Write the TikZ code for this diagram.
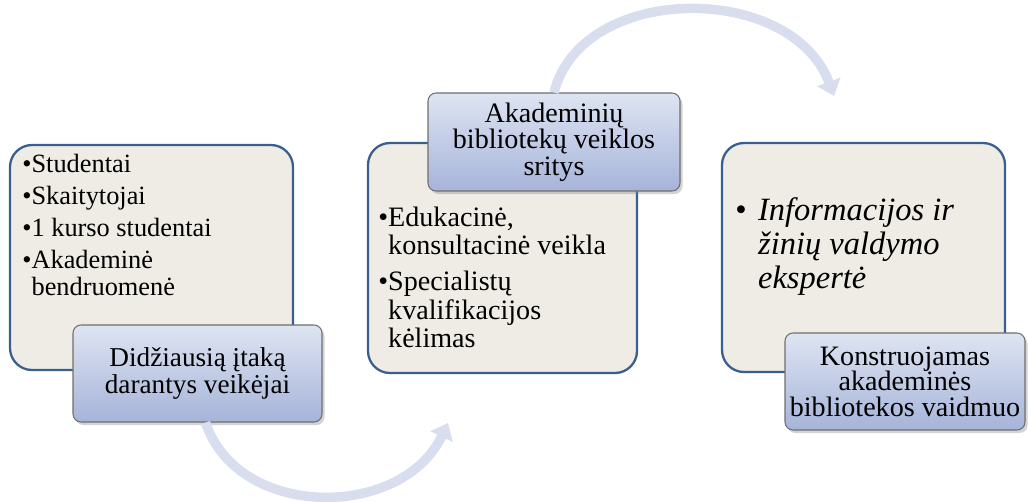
\documentclass[tikz,border=0pt]{standalone}
\usepackage{fontspec}
\setmainfont{LiberationSerif}[Extension=.ttf, UprightFont=*-Regular,
	ItalicFont=*-Italic, BoldFont=*-Bold]
\usetikzlibrary{arrows.meta,shadows}

\definecolor{boxfill}{HTML}{EEECE4}
\definecolor{boxline}{HTML}{3A5F8E}
\definecolor{lbltop}{HTML}{DEE4F2}
\definecolor{lblbot}{HTML}{A6B4D9}
\definecolor{lblline}{HTML}{6F6F6F}
\definecolor{arcfill}{HTML}{D8DEEE}
\newcommand{\px}{0.02cm}
\newcommand{\ind}{\hspace*{0.35em}}

\begin{document}
\begin{tikzpicture}[x=0.02cm, y=-0.02cm,
	box/.style={rectangle, rounded corners=0.44cm, draw=boxline,
		line width=1.3pt, fill=boxfill, inner sep=0pt},
	lbl/.style={rectangle, rounded corners=0.16cm, draw=lblline,
		line width=0.6pt, top color=lbltop, bottom color=lblbot,
		drop shadow={opacity=0.35, shadow xshift=0.05cm, shadow yshift=-0.06cm},
		align=center, inner sep=0pt},
	txt/.style={anchor=north west, inner sep=0pt, align=left},
	turn/.style={line width=0.19cm, draw=arcfill,
		-{Triangle[length=0.3cm, width=0.48cm]}}]
\useasboundingbox (0,0) rectangle (1028,501);

% left block
\node[box, minimum width = 283*\px, minimum height = 225*\px] (box1) at (151.5,257.5) {};
\node[txt, font=\fontsize{15}{15.6}\selectfont] (t1) at (22,154)
	{\textbullet Studentai\\[2.6pt]\textbullet Skaitytojai\\[2.6pt]%
	\textbullet 1 kurso studentai\\[2.6pt]\textbullet Akademinė\\\ind bendruomenė};
\node[lbl, minimum width = 249*\px, minimum height = 97*\px,
	font=\fontsize{15.5}{15.8}\selectfont] (lbl1) at (197.5,373.5)
	{Didžiausią įtaką\\darantys veikėjai};

% middle block
\node[box, minimum width = 269*\px, minimum height = 230*\px] (box2) at (502.5,258) {};
\node[txt, font=\fontsize{16}{16}\selectfont] (t2) at (378,207)
	{\textbullet Edukacinė,\\\ind konsultacinė veikla\\[4.5pt]%
	\textbullet Specialistų\\\ind kvalifikacijos\\\ind kėlimas};
\node[lbl, minimum width = 252*\px, minimum height = 98*\px,
	font=\fontsize{16}{15}\selectfont] (lbl2) at (554,142)
	{Akademinių\\bibliotekų veiklos\\sritys};

% right block
\node[box, minimum width = 283*\px, minimum height = 229*\px] (box3) at (863.5,257.5) {};
\node[txt, font=\fontsize{18.5}{19.5}\selectfont\itshape] (t3) at (735,197)
	{\makebox[0.7em][l]{\upshape\textbullet}Informacijos ir\\%
	\hspace*{0.7em}žinių valdymo\\\hspace*{0.7em}ekspertė};
\node[lbl, minimum width = 240*\px, minimum height = 97*\px,
	font=\fontsize{16}{14.6}\selectfont] (lbl3) at (905,381.5)
	{Konstruojamas\\akademinės\\bibliotekos vaidmuo};

% curved arrows
\coordinate (tip1) at (448,423);
\coordinate (tip2) at (834,96);
\draw[turn] ([xshift=8*\px]lbl1.south) .. controls (238,520) and (402,520) .. (tip1);
\draw[turn] (lbl2.north) .. controls (582,-18) and (792,-18) .. (tip2);
\end{tikzpicture}
\end{document}
